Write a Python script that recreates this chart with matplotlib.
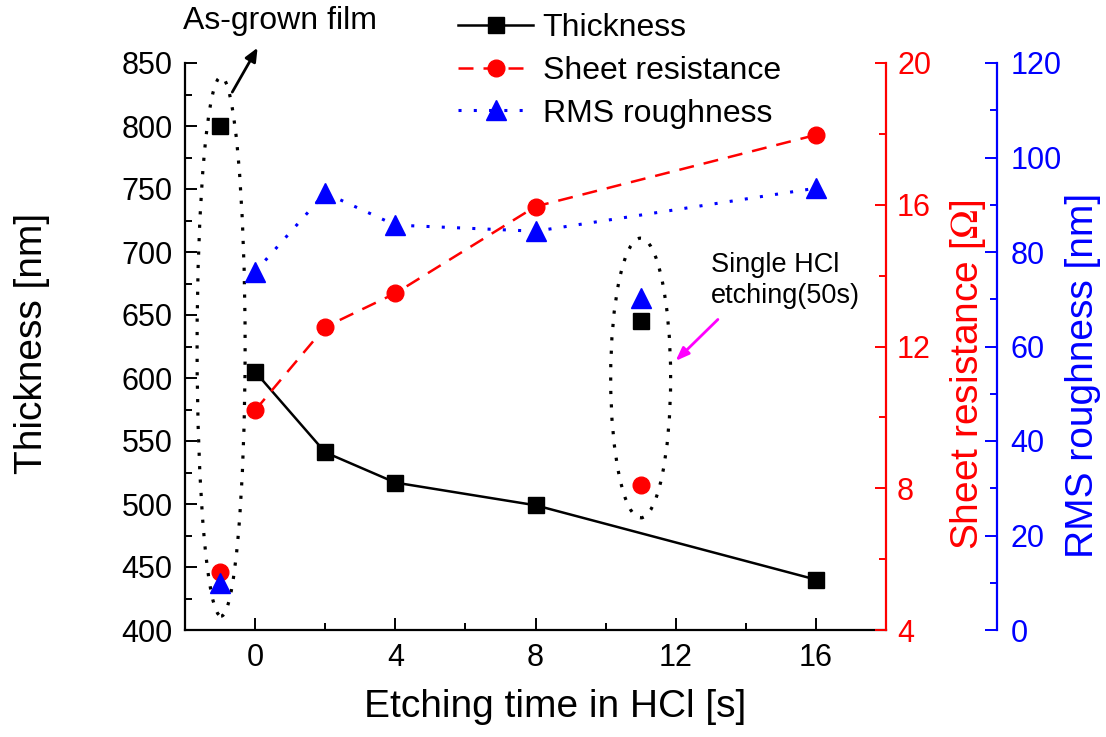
import numpy as np
import matplotlib
matplotlib.use('Agg')
import matplotlib.pyplot as plt
from matplotlib.patches import Ellipse
from matplotlib.ticker import MultipleLocator

plt.rcParams['font.family'] = ['Liberation Sans', 'DejaVu Sans']
plt.rcParams['mathtext.fontset'] = 'stix'

# etching series (0..16 s), the as-grown film sits at x=-1, single etch at x=11
t_etch = [0, 2, 4, 8, 16]
thick = [605, 541, 517, 499, 440]
sheet_res = [10.2, 12.55, 13.5, 15.95, 17.97]
rms = [75.8, 92.5, 85.7, 84.4, 93.5]

t_grown = -1
thick_grown = 800
res_grown = 5.64
rms_grown = 10

t_single = 11
thick_single = 645
res_single = 8.1
rms_single = 70.3

fig = plt.figure(figsize=(11.06, 7.37), dpi=100)
ax = fig.add_axes([185/1106, 1-630/737, 701/1106, 567/737])
ax_r = ax.twinx()
ax_b = ax.twinx()

ax.plot(t_etch, thick, '-', color='black', lw=1.8, marker='s', ms=11, label='Thickness')
ax.plot([t_grown, t_single], [thick_grown, thick_single], 's', color='black', ms=11)
ax_r.plot(t_etch, sheet_res, color='red', lw=1.8, ls=(0, (6, 4)), marker='o', ms=12,
          label='Sheet resistance')
ax_r.plot([t_grown, t_single], [res_grown, res_single], 'o', color='red', ms=12)
ax_b.plot(t_etch, rms, color='blue', lw=2.2, ls=(0, (1, 4)), marker='^', ms=15,
          label='RMS roughness')
ax_b.plot([t_grown, t_single], [rms_grown, rms_single], '^', color='blue', ms=15)

ax.set_xlim(-2, 18)
ax.set_ylim(400, 850)
ax_r.set_ylim(4, 20)
ax_b.set_ylim(0, 120)

ax.xaxis.set_major_locator(MultipleLocator(4))
ax.xaxis.set_minor_locator(MultipleLocator(2))
ax.yaxis.set_major_locator(MultipleLocator(50))
ax.yaxis.set_minor_locator(MultipleLocator(25))
ax_r.yaxis.set_major_locator(MultipleLocator(4))
ax_r.yaxis.set_minor_locator(MultipleLocator(2))
ax_b.yaxis.set_major_locator(MultipleLocator(20))
ax_b.yaxis.set_minor_locator(MultipleLocator(10))

for a in (ax, ax_r, ax_b):
    for s in a.spines.values():
        s.set_visible(False)
ax.spines['left'].set_visible(True)
ax.spines['bottom'].set_visible(True)
ax_r.spines['right'].set_visible(True)
ax_r.spines['right'].set_color('red')
ax_b.spines['right'].set_visible(True)
ax_b.spines['right'].set_color('blue')
ax_b.spines['right'].set_position(('axes', 1.158))
for a in (ax, ax_r, ax_b):
    for s in a.spines.values():
        s.set_linewidth(1.6)

ax.tick_params(which='both', direction='in', width=1.4, labelsize=22, pad=9)
ax.tick_params(which='major', length=8.5)
ax.tick_params(which='minor', length=5)
ax_r.tick_params(which='both', direction='in', width=1.4, colors='red', labelsize=22, pad=8)
ax_r.tick_params(which='major', length=8)
ax_r.tick_params(which='minor', length=5)
ax_b.tick_params(which='both', direction='in', width=1.4, colors='blue', labelsize=22, pad=10)
ax_b.tick_params(which='major', length=9)
ax_b.tick_params(which='minor', length=5)

# dotted ellipses round the special samples
e1 = Ellipse((-0.97, 625), 1.37, 428, fill=False, ec='black', lw=2.3, ls=(0, (1, 3.2)))
e2 = Ellipse((11.0, 600), 1.71, 222, fill=False, ec='black', lw=2.3, ls=(0, (1, 3.2)))
ax.add_patch(e1)
ax.add_patch(e2)

ax.annotate('', xy=(0.11, 864), xytext=(-0.69, 825), annotation_clip=False,
            arrowprops=dict(arrowstyle='-|>,head_length=0.8,head_width=0.35', color='black', lw=2))
fig.text(280/1106, 1-21/737, 'As-grown film', fontsize=23, ha='center', va='center')

ax.annotate('', xy=(11.94, 612), xytext=(13.26, 648), annotation_clip=False,
            arrowprops=dict(arrowstyle='-|>,head_length=0.8,head_width=0.3', color='magenta', lw=2))
ax.text(13.0, 677, 'Single HCl\netching(50s)', fontsize=19.5, ha='left', va='center',
        linespacing=1.25)

fig.text(32/1106, 1-343/737, 'Thickness [nm]', fontsize=28, rotation=90, ha='center', va='center')
fig.text(968/1106, 1-375/737, r'Sheet resistance [$\Omega$]', fontsize=28, rotation=90,
         ha='center', va='center', color='red')
fig.text(1083/1106, 1-375/737, 'RMS roughness [nm]', fontsize=28, rotation=90,
         ha='center', va='center', color='blue')
fig.text(555/1106, 1-707/737, 'Etching time in HCl [s]', fontsize=28, ha='center', va='center')

handles = ax.get_lines()[:1] + ax_r.get_lines()[:1] + ax_b.get_lines()[:1]
fig.legend(handles, [h.get_label() for h in handles], loc='upper left',
           bbox_to_anchor=(458/1106, 1-13/737), frameon=False, fontsize=23,
           handlelength=2.35, handletextpad=0.3, labelspacing=0.4, borderpad=0,
           borderaxespad=0, numpoints=1)

fig.savefig('out.png', dpi=100)
